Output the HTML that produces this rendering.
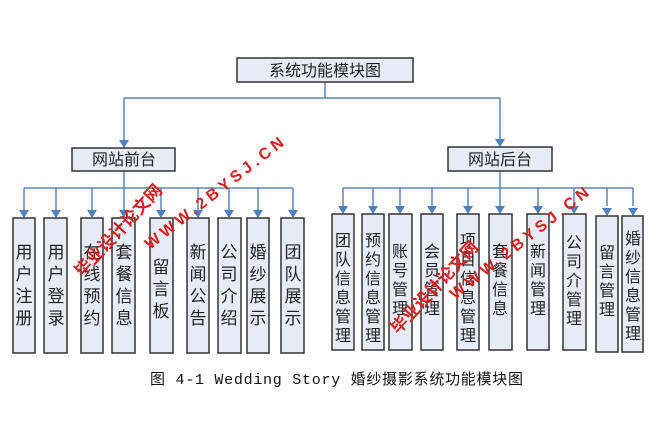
<!DOCTYPE html>
<html><head><meta charset="utf-8"><style>
html,body{margin:0;padding:0;background:#fff;}
svg{display:block;}
.s{font-family:"Liberation Sans","Noto Sans CJK SC",sans-serif;}
.m{font-family:"Liberation Mono","Noto Sans CJK SC",monospace;}
</style></head><body>
<svg width="667" height="445" viewBox="0 0 667 445" xmlns="http://www.w3.org/2000/svg">
<g stroke="#5a85bd" stroke-width="1.5" fill="none">
<path d="M325 82 V98 M124 98 H500 M124 98 V140 M500 98 V140"/>
<path d="M124 171 V188 M24 188 H293"/>
<path d="M500 171 V188 M343 188 H633"/>
</g>
<g fill="#4f81bd">
<path d="M119 140 h10 l-5 8 z"/><path d="M495 139 h10 l-5 8 z"/>
</g>
<g stroke="#5a85bd" stroke-width="1.5">
<line x1="24" y1="188" x2="24" y2="210"/><line x1="56" y1="188" x2="56" y2="210"/><line x1="92" y1="188" x2="92" y2="210"/><line x1="124" y1="188" x2="124" y2="210"/><line x1="161" y1="188" x2="161" y2="210"/><line x1="198" y1="188" x2="198" y2="210"/><line x1="229" y1="188" x2="229" y2="210"/><line x1="258" y1="188" x2="258" y2="210"/><line x1="293" y1="188" x2="293" y2="210"/>
<line x1="343" y1="188" x2="343" y2="206"/><line x1="373" y1="188" x2="373" y2="206"/><line x1="400" y1="188" x2="400" y2="206"/><line x1="432" y1="188" x2="432" y2="206"/><line x1="468" y1="188" x2="468" y2="206"/><line x1="500" y1="188" x2="500" y2="206"/><line x1="538" y1="188" x2="538" y2="206"/><line x1="574" y1="188" x2="574" y2="206"/><line x1="607" y1="188" x2="607" y2="206"/><line x1="633" y1="188" x2="633" y2="206"/>
</g>
<g fill="#4f81bd">
<path d="M19 210h10l-5 8z"/><path d="M51 210h10l-5 8z"/><path d="M87 210h10l-5 8z"/><path d="M119 210h10l-5 8z"/><path d="M156 210h10l-5 8z"/><path d="M193 210h10l-5 8z"/><path d="M224 210h10l-5 8z"/><path d="M253 210h10l-5 8z"/><path d="M288 210h10l-5 8z"/>
<path d="M338 206h10l-5 8z"/><path d="M368 206h10l-5 8z"/><path d="M395 206h10l-5 8z"/><path d="M427 206h10l-5 8z"/><path d="M463 206h10l-5 8z"/><path d="M495 206h10l-5 8z"/><path d="M533 206h10l-5 8z"/><path d="M569 206h10l-5 8z"/><path d="M602 208h10l-5 8z"/><path d="M628 208h10l-5 8z"/>
</g>
<g fill="#e6ebf5" stroke="#333" stroke-width="1.5">
<rect x="237" y="58" width="176" height="24"/>
<rect x="72" y="148" width="103" height="23"/>
<rect x="448" y="147" width="104" height="24"/>
<rect x="13" y="218" width="22" height="135"/><rect x="44" y="218" width="23" height="135"/><rect x="81" y="218" width="22" height="135"/><rect x="112" y="218" width="23" height="135"/><rect x="150" y="218" width="23" height="135"/><rect x="187" y="218" width="22" height="135"/><rect x="218" y="218" width="23" height="135"/><rect x="247" y="218" width="22" height="135"/><rect x="281" y="218" width="23" height="135"/>
<rect x="332" y="214" width="22" height="136"/><rect x="362" y="214" width="22" height="136"/><rect x="389" y="214" width="23" height="136"/><rect x="421" y="214" width="22" height="136"/><rect x="457" y="214" width="22" height="136"/><rect x="489" y="214" width="23" height="136"/><rect x="527" y="214" width="22" height="136"/><rect x="563" y="214" width="23" height="136"/><rect x="596" y="216" width="22" height="136"/><rect x="622" y="216" width="21" height="136"/>
</g>
<g class="s" fill="#222" font-size="16" text-anchor="middle">
<text x="325" y="76">系统功能模块图</text>
<text x="124" y="165">网站前台</text>
<text x="500" y="165">网站后台</text>
</g>
<g class="s" fill="#222" font-size="17" text-anchor="middle">
<text x="24" y="258">用</text><text x="24" y="280">户</text><text x="24" y="302">注</text><text x="24" y="324">册</text>
<text x="56" y="258">用</text><text x="56" y="280">户</text><text x="56" y="302">登</text><text x="56" y="324">录</text>
<text x="92" y="258">在</text><text x="92" y="280">线</text><text x="92" y="302">预</text><text x="92" y="324">约</text>
<text x="124" y="258">套</text><text x="124" y="280">餐</text><text x="124" y="302">信</text><text x="124" y="324">息</text>
<text x="161" y="273">留</text><text x="161" y="295">言</text><text x="161" y="317">板</text>
<text x="198" y="258">新</text><text x="198" y="280">闻</text><text x="198" y="302">公</text><text x="198" y="324">告</text>
<text x="229" y="258">公</text><text x="229" y="280">司</text><text x="229" y="302">介</text><text x="229" y="324">绍</text>
<text x="258" y="258">婚</text><text x="258" y="280">纱</text><text x="258" y="302">展</text><text x="258" y="324">示</text>
<text x="293" y="258">团</text><text x="293" y="280">队</text><text x="293" y="302">展</text><text x="293" y="324">示</text>
</g>
<g class="s" fill="#222" font-size="16" text-anchor="middle">
<text x="343" y="246">团</text><text x="343" y="265">队</text><text x="343" y="284">信</text><text x="343" y="303">息</text><text x="343" y="322">管</text><text x="343" y="341">理</text>
<text x="373" y="246">预</text><text x="373" y="265">约</text><text x="373" y="284">信</text><text x="373" y="303">息</text><text x="373" y="322">管</text><text x="373" y="341">理</text>
<text x="400" y="257">账</text><text x="400" y="276">号</text><text x="400" y="295">管</text><text x="400" y="314">理</text>
<text x="432" y="257">会</text><text x="432" y="276">员</text><text x="432" y="295">管</text><text x="432" y="314">理</text>
<text x="468" y="246">项</text><text x="468" y="265">目</text><text x="468" y="284">信</text><text x="468" y="303">息</text><text x="468" y="322">管</text><text x="468" y="341">理</text>
<text x="500" y="257">套</text><text x="500" y="276">餐</text><text x="500" y="295">信</text><text x="500" y="314">息</text>
<text x="538" y="257">新</text><text x="538" y="276">闻</text><text x="538" y="295">管</text><text x="538" y="314">理</text>
<text x="574" y="248">公</text><text x="574" y="267">司</text><text x="574" y="286">介</text><text x="574" y="305">管</text><text x="574" y="324">理</text>
<text x="607" y="258">留</text><text x="607" y="277">言</text><text x="607" y="296">管</text><text x="607" y="315">理</text>
<text x="633" y="244">婚</text><text x="633" y="263">纱</text><text x="633" y="282">信</text><text x="633" y="301">息</text><text x="633" y="320">管</text><text x="633" y="339">理</text>
</g>
<g class="s" fill="#d42020" font-weight="bold" font-size="17">
<text transform="translate(82,278) rotate(-47)">毕业设计论文网</text>
<text transform="translate(150,250) rotate(-38)" font-size="16" letter-spacing="4">WWW.2BYSJ.CN</text>
<text transform="translate(398,335) rotate(-47)">毕业设计论文网</text>
<text transform="translate(455,300) rotate(-38)" font-size="16" letter-spacing="4">WWW.2BYSJ.CN</text>
</g>
<text class="m" x="150" y="384" font-size="15" fill="#111" textLength="373" lengthAdjust="spacing">图 4-1 Wedding Story 婚纱摄影系统功能模块图</text>
</svg>
</body></html>
